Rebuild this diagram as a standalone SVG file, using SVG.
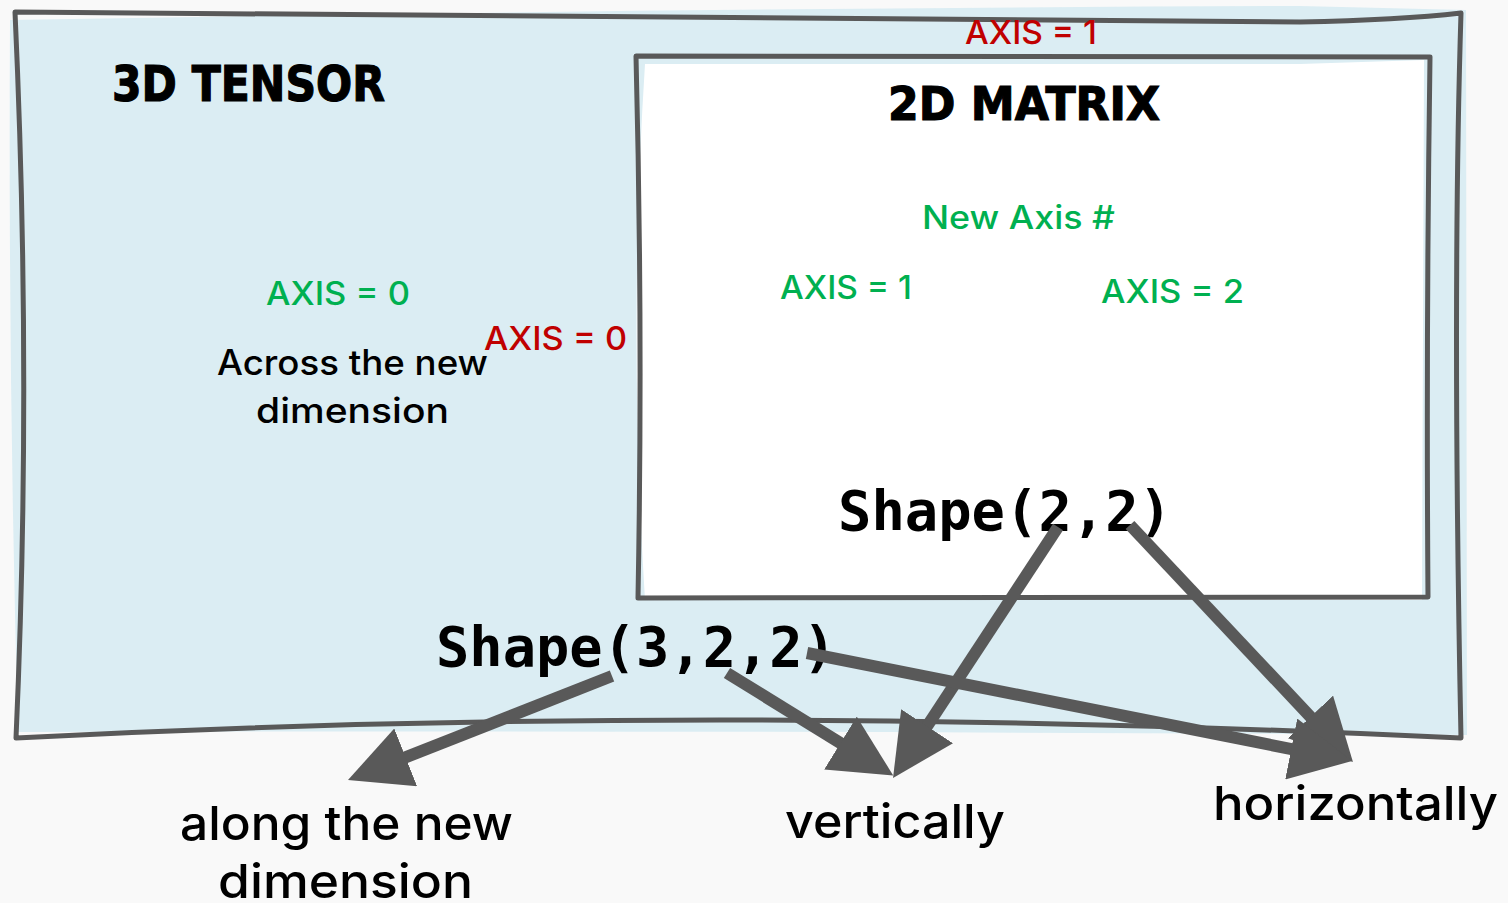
<svg xmlns="http://www.w3.org/2000/svg" width="1508" height="903" viewBox="0 0 1508 903">
  <style>
    .frame { fill: none; stroke: #595959; stroke-width: 5; stroke-linejoin: round; stroke-linecap: round; }
    .title { font-family: "DejaVu Sans", sans-serif; font-weight: bold; fill: #000; stroke: #000; stroke-width: 1.2; }
    .lbl { font-family: Inter, "Open Sans", "Noto Sans", sans-serif; font-weight: 500; }
    .green { fill: #00b050; font-size: 32px; }
    .red { fill: #c00000; font-size: 33px; }
    .dark { fill: #000; }
    .mono { font-family: "DejaVu Sans Mono", "Liberation Mono", monospace; font-weight: bold; fill: #000; font-size: 56px; }
    .link { fill: none; stroke: #595959; stroke-width: 12; }
  </style>
  <defs>
    <marker id="head" markerUnits="userSpaceOnUse" viewBox="0 0 62 62" markerWidth="62" markerHeight="62" refX="12" refY="31" orient="auto">
      <path d="M0,0 L62,31 L0,62 Z" fill="#595959"/>
    </marker>
  </defs>

  <rect width="1508" height="903" fill="#f9f9f9"/>

  <!-- outer box: the 3D tensor -->
  <g id="tensor3d">
    <path d="M10,20 Q700,8 1300,6 L1466,10 L1467,735 Q700,730 18,732 Q8,380 10,20 Z" fill="#dbedf3"/>
    <path class="frame" d="M15,12 Q800,20 1300,22 Q1400,20 1461,13 Q1452,300 1461,738 Q700,702 16,738 Q32,380 15,12 Z"/>
    <text class="title" x="112" y="101" font-size="49" textLength="273" lengthAdjust="spacingAndGlyphs">3D TENSOR</text>
    <text class="lbl green" x="266" y="305" textLength="144" lengthAdjust="spacingAndGlyphs">AXIS = 0</text>
    <text class="lbl dark" x="217" y="375" font-size="35" textLength="271" lengthAdjust="spacingAndGlyphs">Across the new</text>
    <text class="lbl dark" x="256" y="423" font-size="35" textLength="193" lengthAdjust="spacingAndGlyphs">dimension</text>
    <text class="lbl red" x="484" y="350" textLength="143" lengthAdjust="spacingAndGlyphs">AXIS = 0</text>
    <text class="lbl red" x="965" y="44" textLength="132" lengthAdjust="spacingAndGlyphs">AXIS = 1</text>
    <text class="mono" x="436" y="666" textLength="400" lengthAdjust="spacingAndGlyphs">Shape(3,2,2)</text>
  </g>

  <!-- inner box: the 2D matrix -->
  <g id="matrix2d">
    <path d="M645,64 L1300,64 L1424,60 L1422,600 L645,600 Q628,330 645,64 Z" fill="#ffffff"/>
    <path class="frame" d="M636,56 L1430,57 Q1426,330 1428,597 Q1030,596 638,598 Q643,330 636,56 Z"/>
    <text class="title" x="888" y="120" font-size="47" textLength="272" lengthAdjust="spacingAndGlyphs">2D MATRIX</text>
    <text class="lbl green" x="922" y="229" textLength="193" lengthAdjust="spacingAndGlyphs">New Axis #</text>
    <text class="lbl green" x="780" y="299" textLength="132" lengthAdjust="spacingAndGlyphs">AXIS = 1</text>
    <text class="lbl green" x="1101" y="303" textLength="143" lengthAdjust="spacingAndGlyphs">AXIS = 2</text>
    <text class="mono" x="838" y="530" textLength="334" lengthAdjust="spacingAndGlyphs">Shape(2,2)</text>
  </g>

  <!-- connectors -->
  <g id="connectors">
    <path class="link" d="M612,676 L394.5,761.7" marker-end="url(#head)"/>
    <path class="link" d="M727,673 L850.7,749.3" marker-end="url(#head)"/>
    <path class="link" d="M1058,527 L920.5,736.2" marker-end="url(#head)"/>
    <path class="link" d="M1130,525 L1318.7,725.6" marker-end="url(#head)"/>
    <path class="link" d="M807,653 L1303,751.3" marker-end="url(#head)"/>
  </g>

  <!-- direction labels -->
  <g id="label-new-dim">
    <text class="lbl dark" x="180" y="840" font-size="47" textLength="333" lengthAdjust="spacingAndGlyphs">along the new</text>
    <text class="lbl dark" x="218" y="898" font-size="47" textLength="255" lengthAdjust="spacingAndGlyphs">dimension</text>
  </g>
  <g id="label-vertical">
    <text class="lbl dark" x="785" y="838" font-size="47" textLength="220" lengthAdjust="spacingAndGlyphs">vertically</text>
  </g>
  <g id="label-horizontal">
    <text class="lbl dark" x="1213" y="820" font-size="47" textLength="285" lengthAdjust="spacingAndGlyphs">horizontally</text>
  </g>
</svg>
